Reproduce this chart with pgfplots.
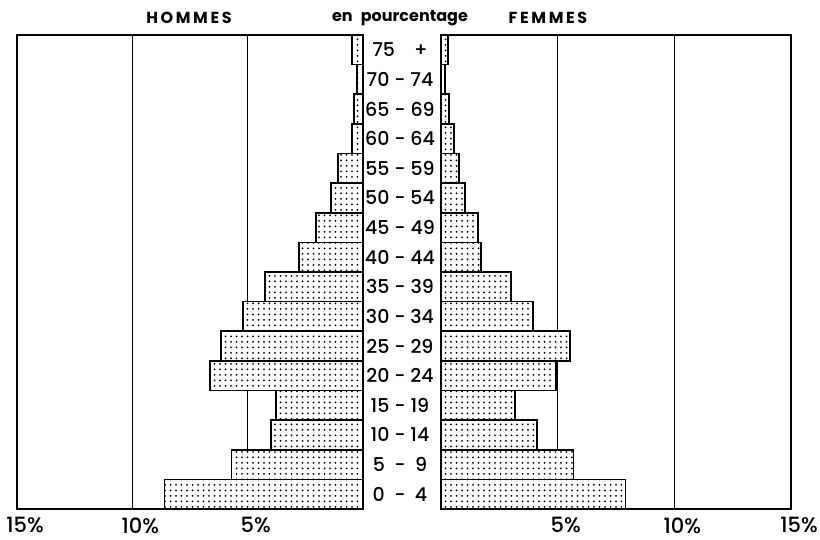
\documentclass[border=0pt]{standalone}
\usepackage{fontspec}
\setmainfont{Poppins Medium}[BoldFont={Poppins Bold}]
\usepackage{pgfplots}
\usepackage{pgfplotstable}
\pgfplotsset{compat=1.18}
\usetikzlibrary{patterns.meta}
\pgfplotstableread{
age men women
0 8.6 7.9
1 5.7 5.67
2 3.98 4.12
3 3.77 3.18
4 6.62 4.94
5 6.15 5.54
6 5.2 3.95
7 4.24 3.0
8 2.77 1.72
9 2.03 1.59
10 1.39 1.03
11 1.08 0.77
12 0.48 0.56
13 0.39 0.34
14 0.26 0.17
15 0.48 0.30
}\pyr
\begin{document}
\begin{tikzpicture}
\path[use as bounding box] (-17pt,-31pt) rectangle (803pt,509pt);
\pgfplotsset{pyr/.style={
  scale only axis, height=474pt, xmin=0, xmax=15, ymin=-0.5, ymax=15.5,
  xtick={5,10,15}, xmajorgrids, grid style={black, line width=1pt},
  major tick length=0pt, axis line style={black, line width=1.3pt},
  xticklabel style={font=\fontsize{21}{21}\selectfont, yshift=-5pt, xshift=8pt},
  /pgf/number format/assume math mode=true,
  clip=false,
},
bars/.style={xbar, bar width=1, draw=black, line width=1.6pt,
  preaction={fill=white},
  pattern={Dots[distance=5.5pt,radius=1pt]}}
}
\begin{axis}[pyr, at={(0pt,0pt)}, anchor=south west, width=346pt, x dir=reverse,
  xticklabels={5\%,10\%,15\%},
  ytick={0,...,15}, yticklabel pos=right,
  yticklabels={0\enspace-\enspace4, 5\enspace-\enspace9, 10 - 14, 15 - 19, 20 - 24, 25 - 29, 30 - 34, 35 - 39, 40 - 44, 45 - 49, 50 - 54, 55 - 59, 60 - 64, 65 - 69, 70 - 74, 75\quad+},
  yticklabel style={font=\fontsize{19}{19}\selectfont, anchor=center, xshift=37pt}]
\addplot[bars] table[x=men,y=age]{\pyr};
\end{axis}
\begin{axis}[pyr, at={(424pt,0pt)}, anchor=south west, width=350pt,
  xticklabels={5\%,10\%,15\%}, ytick=\empty]
\addplot[bars] table[x=women,y=age]{\pyr};
\end{axis}
\node[font=\fontsize{16}{16}\selectfont\bfseries] at (172pt,491pt) {H\,O\,M\,M\,E\,S};
\node[font=\fontsize{16}{16}\selectfont\bfseries] at (383pt,491pt) {en\enspace pourcentage};
\node[font=\fontsize{16}{16}\selectfont\bfseries] at (531pt,491pt) {F\,E\,M\,M\,E\,S};
\end{tikzpicture}
\end{document}
